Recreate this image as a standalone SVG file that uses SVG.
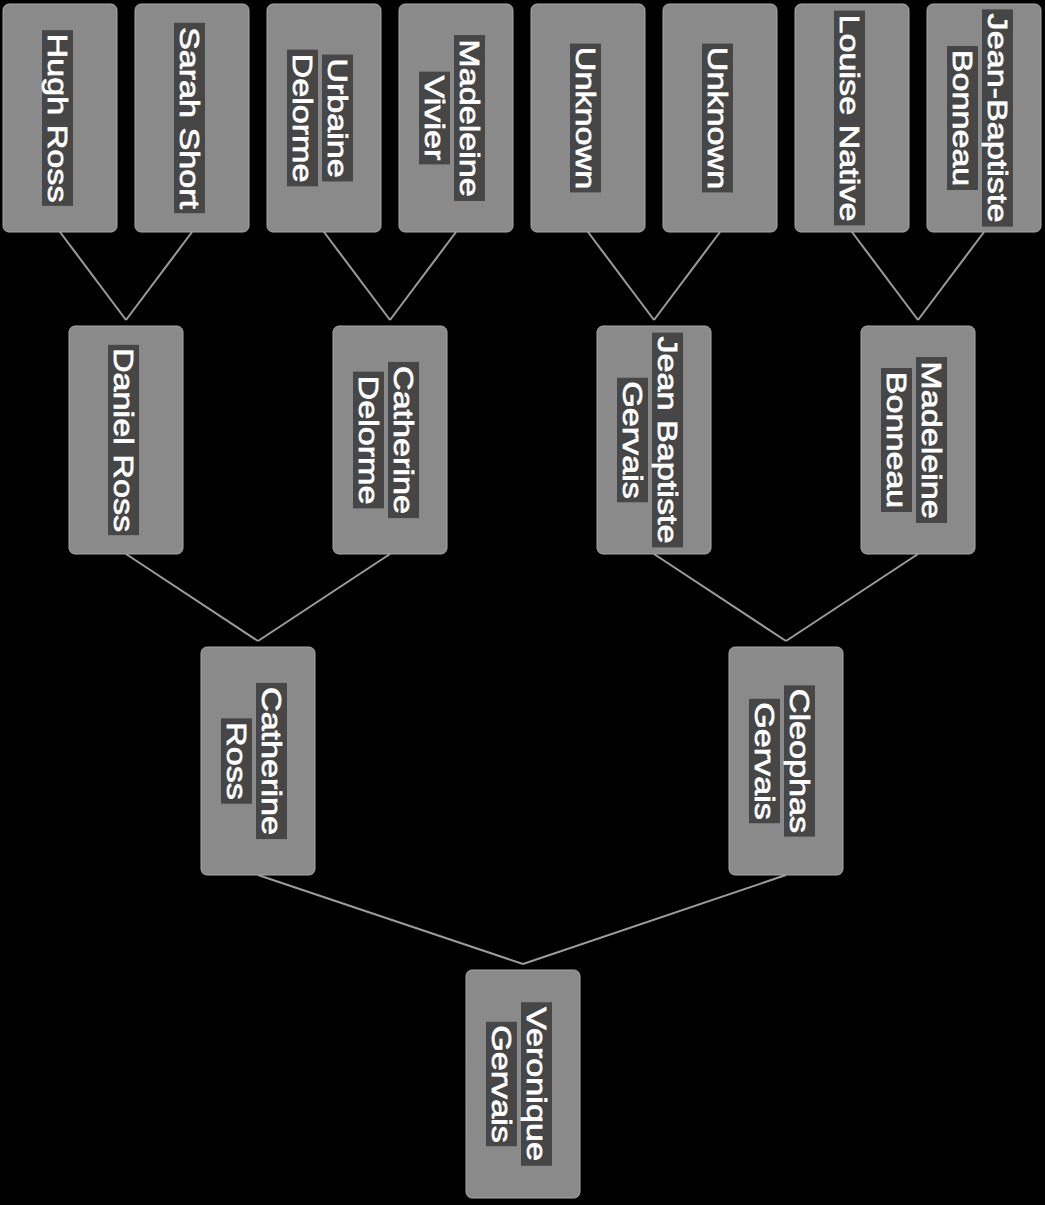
<svg xmlns="http://www.w3.org/2000/svg" width="1045" height="1205" viewBox="0 0 1045 1205">
<style>
.box{fill:#8a8a8a;stroke:#a8a8a8;stroke-width:1}
.band{fill:#2a2a2a;opacity:0.7}
.t{font-family:"Liberation Sans",Arial,sans-serif;font-size:28px;fill:#ffffff;stroke:#ffffff;stroke-width:0.7;text-anchor:middle}
.c{stroke:#9c9c9c;stroke-width:2;fill:none}
</style>
<rect x="0" y="0" width="1045" height="1205" fill="#000"/>
<g id="connectors">
<line class="c" x1="60" y1="232" x2="126" y2="320"/>
<line class="c" x1="192" y1="232" x2="126" y2="320"/>
<line class="c" x1="324" y1="232" x2="390" y2="320"/>
<line class="c" x1="456" y1="232" x2="390" y2="320"/>
<line class="c" x1="588" y1="232" x2="654" y2="320"/>
<line class="c" x1="720" y1="232" x2="654" y2="320"/>
<line class="c" x1="852" y1="232" x2="918" y2="320"/>
<line class="c" x1="984" y1="232" x2="918" y2="320"/>
<line class="c" x1="126" y1="554" x2="258" y2="641"/>
<line class="c" x1="390" y1="554" x2="258" y2="641"/>
<line class="c" x1="654" y1="554" x2="786" y2="641"/>
<line class="c" x1="918" y1="554" x2="786" y2="641"/>
<line class="c" x1="258" y1="875" x2="523" y2="964"/>
<line class="c" x1="786" y1="875" x2="523" y2="964"/>
</g>
<g id="hugh-ross">
<rect class="box" x="3" y="4" width="114" height="228" rx="6"/>
<g transform="translate(60,118) rotate(90) scale(1.22,1)">
<rect class="band" x="-72" y="-13" width="144" height="31"/>
<text class="t" x="0" y="12">Hugh Ross</text>
</g>
</g>
<g id="sarah-short">
<rect class="box" x="135" y="4" width="114" height="228" rx="6"/>
<g transform="translate(192,118) rotate(90) scale(1.22,1)">
<rect class="band" x="-78" y="-13" width="156" height="31"/>
<text class="t" x="0" y="12">Sarah Short</text>
</g>
</g>
<g id="urbaine-delorme">
<rect class="box" x="267" y="4" width="114" height="228" rx="6"/>
<g transform="translate(324,118) rotate(90) scale(1.22,1)">
<rect class="band" x="-52" y="-29" width="104" height="31"/>
<rect class="band" x="-56" y="6" width="112" height="31"/>
<text class="t" x="0" y="-4">Urbaine</text>
<text class="t" x="0" y="31">Delorme</text>
</g>
</g>
<g id="madeleine-vivier">
<rect class="box" x="399" y="4" width="114" height="228" rx="6"/>
<g transform="translate(456,118) rotate(90) scale(1.22,1)">
<rect class="band" x="-68" y="-29" width="136" height="31"/>
<rect class="band" x="-38" y="6" width="76" height="31"/>
<text class="t" x="0" y="-4">Madeleine</text>
<text class="t" x="0" y="31">Vivier</text>
</g>
</g>
<g id="unknown-1">
<rect class="box" x="531" y="4" width="114" height="228" rx="6"/>
<g transform="translate(588,118) rotate(90) scale(1.22,1)">
<rect class="band" x="-61" y="-13" width="122" height="31"/>
<text class="t" x="0" y="12">Unknown</text>
</g>
</g>
<g id="unknown-2">
<rect class="box" x="663" y="4" width="114" height="228" rx="6"/>
<g transform="translate(720,118) rotate(90) scale(1.22,1)">
<rect class="band" x="-61" y="-13" width="122" height="31"/>
<text class="t" x="0" y="12">Unknown</text>
</g>
</g>
<g id="louise-native">
<rect class="box" x="795" y="4" width="114" height="228" rx="6"/>
<g transform="translate(852,118) rotate(90) scale(1.22,1)">
<rect class="band" x="-88" y="-13" width="176" height="31"/>
<text class="t" x="0" y="12">Louise Native</text>
</g>
</g>
<g id="jean-baptiste-bonneau">
<rect class="box" x="927" y="4" width="114" height="228" rx="6"/>
<g transform="translate(984,118) rotate(90) scale(1.22,1)">
<rect class="band" x="-89" y="-29" width="178" height="31"/>
<rect class="band" x="-59" y="6" width="118" height="31"/>
<text class="t" x="0" y="-4">Jean-Baptiste</text>
<text class="t" x="0" y="31">Bonneau</text>
</g>
</g>
<g id="daniel-ross">
<rect class="box" x="69" y="326" width="114" height="228" rx="6"/>
<g transform="translate(126,440) rotate(90) scale(1.22,1)">
<rect class="band" x="-78" y="-13" width="156" height="31"/>
<text class="t" x="0" y="12">Daniel Ross</text>
</g>
</g>
<g id="catherine-delorme">
<rect class="box" x="333" y="326" width="114" height="228" rx="6"/>
<g transform="translate(390,440) rotate(90) scale(1.22,1)">
<rect class="band" x="-64" y="-29" width="128" height="31"/>
<rect class="band" x="-56" y="6" width="112" height="31"/>
<text class="t" x="0" y="-4">Catherine</text>
<text class="t" x="0" y="31">Delorme</text>
</g>
</g>
<g id="jean-baptiste-gervais">
<rect class="box" x="597" y="326" width="114" height="228" rx="6"/>
<g transform="translate(654,440) rotate(90) scale(1.22,1)">
<rect class="band" x="-88" y="-29" width="176" height="31"/>
<rect class="band" x="-51" y="6" width="102" height="31"/>
<text class="t" x="0" y="-4">Jean Baptiste</text>
<text class="t" x="0" y="31">Gervais</text>
</g>
</g>
<g id="madeleine-bonneau">
<rect class="box" x="861" y="326" width="114" height="228" rx="6"/>
<g transform="translate(918,440) rotate(90) scale(1.22,1)">
<rect class="band" x="-68" y="-29" width="136" height="31"/>
<rect class="band" x="-59" y="6" width="118" height="31"/>
<text class="t" x="0" y="-4">Madeleine</text>
<text class="t" x="0" y="31">Bonneau</text>
</g>
</g>
<g id="catherine-ross">
<rect class="box" x="201" y="647" width="114" height="228" rx="6"/>
<g transform="translate(258,761) rotate(90) scale(1.22,1)">
<rect class="band" x="-64" y="-29" width="128" height="31"/>
<rect class="band" x="-35" y="6" width="70" height="31"/>
<text class="t" x="0" y="-4">Catherine</text>
<text class="t" x="0" y="31">Ross</text>
</g>
</g>
<g id="cleophas-gervais">
<rect class="box" x="729" y="647" width="114" height="228" rx="6"/>
<g transform="translate(786,761) rotate(90) scale(1.22,1)">
<rect class="band" x="-62" y="-29" width="124" height="31"/>
<rect class="band" x="-51" y="6" width="102" height="31"/>
<text class="t" x="0" y="-4">Cleophas</text>
<text class="t" x="0" y="31">Gervais</text>
</g>
</g>
<g id="veronique-gervais">
<rect class="box" x="466" y="970" width="114" height="228" rx="6"/>
<g transform="translate(523,1084) rotate(90) scale(1.22,1)">
<rect class="band" x="-67" y="-29" width="134" height="31"/>
<rect class="band" x="-51" y="6" width="102" height="31"/>
<text class="t" x="0" y="-4">Veronique</text>
<text class="t" x="0" y="31">Gervais</text>
</g>
</g>
</svg>
